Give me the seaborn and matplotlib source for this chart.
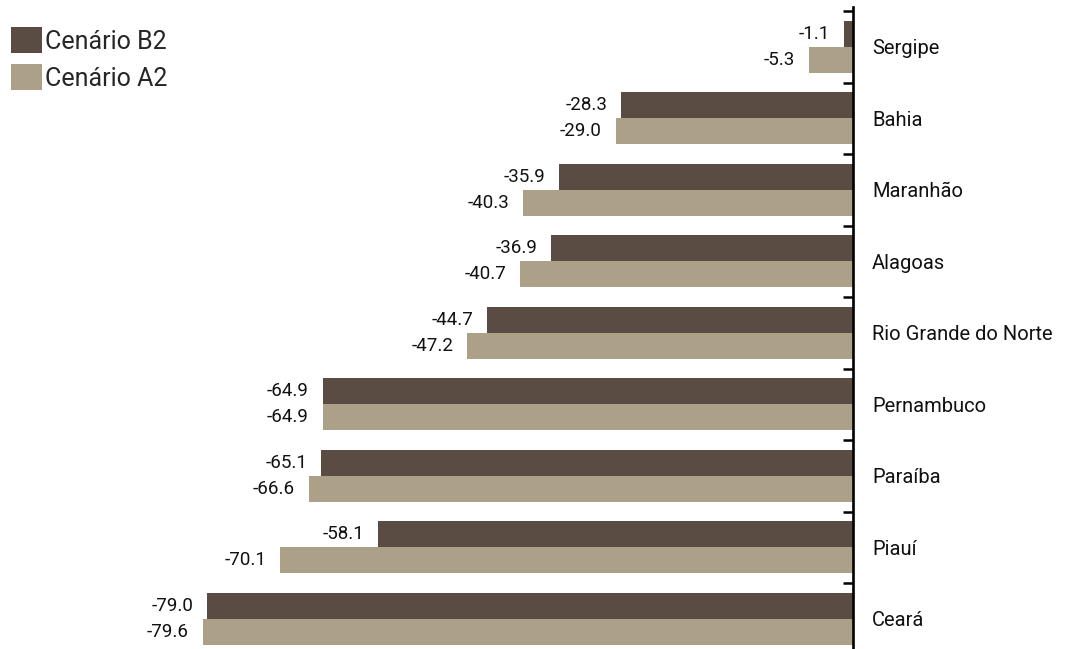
import matplotlib
matplotlib.use("Agg")
import matplotlib.pyplot as plt
from matplotlib.patches import Patch
from matplotlib.ticker import FixedLocator
import seaborn as sns
import pandas as pd

states = ["Sergipe", "Bahia", "Maranhão", "Alagoas", "Rio Grande do Norte",
          "Pernambuco", "Paraíba", "Piauí", "Ceará"]
scenario_b2 = [-1.1, -28.3, -35.9, -36.9, -44.7, -64.9, -65.1, -58.1, -79.0]
scenario_a2 = [-5.3, -29.0, -40.3, -40.7, -47.2, -64.9, -66.6, -70.1, -79.6]
series_names = ["Cenário B2", "Cenário A2"]
colors = ["#5A4B43", "#ACA089"]

df = pd.DataFrame({
    "estado": states * 2,
    "valor": scenario_b2 + scenario_a2,
    "cenario": [series_names[0]] * len(states) + [series_names[1]] * len(states),
})

sns.set_style("white")
plt.rcParams["font.family"] = ["Roboto", "DejaVu Sans"]

W, H = 1070, 649
fig = plt.figure(figsize=(W / 100, H / 100), dpi=100)
ax = fig.add_axes([0, 0, 852.5 / W, 1 - 7 / H])

sns.barplot(data=df, x="valor", y="estado", hue="cenario", order=states,
            hue_order=series_names, palette=colors, orient="h", width=0.73,
            saturation=1, legend=False, ax=ax, errorbar=None, linewidth=0)

for cont in ax.containers:
    ax.bar_label(cont, fmt="%.1f", padding=10, fontsize=13.5, color="#111111")

ax.set_xlim(-104.4, 0)
ax.set_ylim(8.423, -0.556)
ax.set_xlabel("")
ax.set_ylabel("")
ax.set_xticks([])

for s in ["left", "top", "bottom"]:
    ax.spines[s].set_visible(False)
ax.spines["right"].set_visible(True)
ax.spines["right"].set_linewidth(1.9)
ax.spines["right"].set_color("black")

ax.yaxis.tick_right()
ax.tick_params(axis="y", which="major", length=0, pad=14, labelsize=14.5,
               labelcolor="#111111", right=False, left=False, labelright=True)
ax.yaxis.set_minor_locator(FixedLocator([i + 0.5 for i in range(-1, 9)]))
ax.tick_params(axis="y", which="minor", right=True, left=False, direction="in",
               length=7.5, width=1.8, color="black")

handles = [Patch(facecolor=c, edgecolor="none") for c in colors]
fig.legend(handles, series_names, loc="upper left",
           bbox_to_anchor=(11 / W, 1 - 27 / H), frameon=False, fontsize=18,
           borderpad=0, borderaxespad=0, handlelength=1.24, handleheight=1.24,
           handletextpad=0.12, labelspacing=0.42)

fig.savefig("out.png", dpi=100)
